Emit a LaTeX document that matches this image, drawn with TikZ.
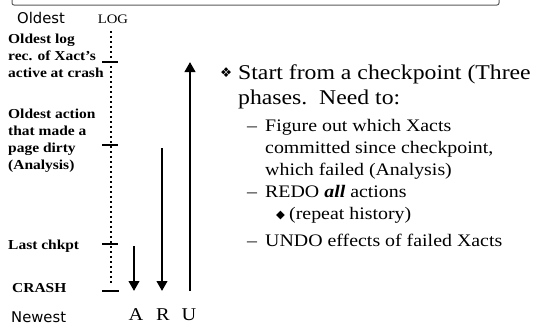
\documentclass[tikz,border=0pt]{standalone}
\usepackage{fontspec}
\setmainfont{Liberation Serif}[FakeStretch=1.13]
\newfontfamily\endsfont{DejaVu Sans}
\newfontfamily\symfont{DejaVu Sans}
\usetikzlibrary{arrows.meta}

\tikzset{
  endlabel/.style={font=\endsfont\fontsize{14.8}{18}\selectfont, anchor=base west, inner sep=0pt},
  eventlabel/.style={font=\bfseries\fontsize{13.7}{16.8}\selectfont, anchor=base west, inner sep=0pt, align=left},
  phase/.style={font=\fontsize{18}{20}\selectfont, anchor=base, inner sep=0pt},
  logline/.style={line width=2.4pt, dash pattern=on 2.4pt off 2.6pt},
  tick/.style={line width=1.3pt},
  pass/.style={line width=2.7pt, -{Triangle[length=10pt,width=10.5pt]}},
  mainitem/.style={font=\fontsize{21}{25}\selectfont, anchor=base west, inner sep=0pt},
  subitem/.style={font=\fontsize{17.6}{22}\selectfont, anchor=base west, inner sep=0pt},
}

\begin{document}
\begin{tikzpicture}[x=1pt, y=-1pt]
\useasboundingbox (0,0) rectangle (539,325);

% title bar remnant along the top edge
\draw[draw=black!65, line width=1pt, rounded corners=2pt, fill=white] (12,-3) rectangle (499,5);

% time axis of the log
\node[endlabel] (oldest) at (17,23) {Oldest};
\node[font=\fontsize{13}{15}\selectfont, anchor=base, inner sep=0pt] (logtitle) at (113,23) {LOG};
\node[endlabel] (newest) at (11,322) {Newest};

\coordinate (logtop) at (111,31);
\coordinate (tA) at (111,62);
\coordinate (tB) at (111,145);
\coordinate (tC) at (111,244);
\coordinate (logend) at (111,284);
\coordinate (crash) at (111,291);

\draw[logline] (logtop) -- (logend);
\draw[tick] ([xshift=-9pt]tA) -- ([xshift=7pt]tA);
\draw[tick] ([xshift=-9pt]tB) -- ([xshift=7pt]tB);
\draw[tick] ([xshift=-9pt]tC) -- ([xshift=7pt]tC);
\draw[tick] ([xshift=-9pt]crash) -- ([xshift=8pt]crash);

% events on the log (a multi-line node sits on its last baseline)
\node[eventlabel] (ev1) at (8,77.5) {Oldest log\\rec. of Xact's\\active at crash};
\node[eventlabel] (ev2) at (8,169) {Oldest action\\that made a\\page dirty\\(Analysis)};
\node[eventlabel] (ev3) at (8,249) {Last chkpt};
\node[eventlabel] (ev4) at (12,292) {CRASH};

% the three recovery passes
\coordinate (aTop) at (134,246);
\coordinate (aEnd) at (134,291);
\coordinate (rTop) at (162,148);
\coordinate (rEnd) at (162,291);
\coordinate (uTop) at (190,62);
\coordinate (uEnd) at (190,291);
\draw[pass] (aTop) -- (aEnd);
\draw[pass] (rTop) -- (rEnd);
\draw[pass] (uEnd) -- (uTop);

\node[phase] (A) at (136,320) {A};
\node[phase] (R) at (163,320) {R};
\node[phase] (U) at (189,320) {U};

% explanation
\node[font=\symfont\fontsize{13.5}{15}\selectfont, anchor=base west, inner sep=0pt] (b1) at (220,77.5) {❖};
\node[mainitem] (m1) at (238,79) {Start from a checkpoint (Three};
\node[mainitem] (m2) at (238,104) {phases.\ \ Need to:};

\node[subitem] (d1) at (247,131) {–};
\node[subitem] (s1) at (265,131) {Figure out which Xacts};
\node[subitem] (s1b) at (265,153) {committed since checkpoint,};
\node[subitem] (s1c) at (265,175) {which failed (Analysis)};
\node[subitem] (d2) at (247,197) {–};
\node[subitem] (s2) at (265,197) {REDO \textbf{\textit{all}} actions};
\node[font=\symfont\fontsize{11.5}{13}\selectfont, anchor=base west, inner sep=0pt] (b2) at (276,218) {◆};
\node[subitem] (s3) at (289,219) {(repeat history)};
\node[subitem] (d3) at (247,246) {–};
\node[subitem] (s4) at (265,246) {UNDO effects of failed Xacts};
\end{tikzpicture}
\end{document}
